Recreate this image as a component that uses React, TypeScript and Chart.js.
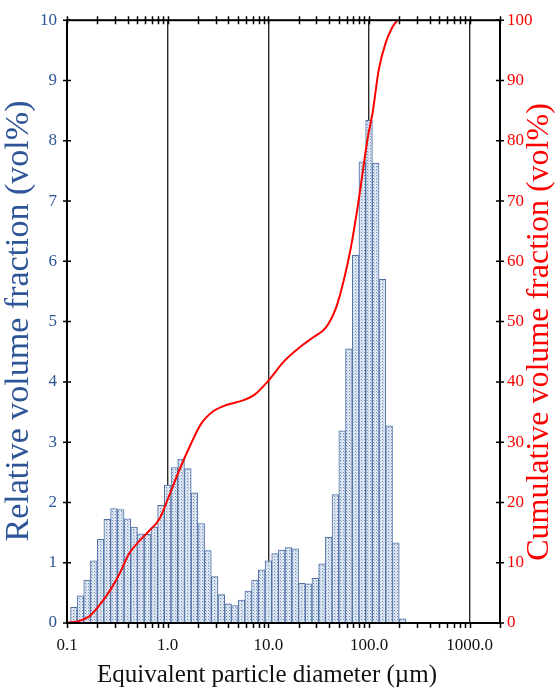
import React, { useEffect, useRef } from 'react';
import { Chart, registerables } from 'chart.js';

Chart.register(...registerables);

// Bin centre diameters (µm) of the histogram bars
const DIAMETERS = [
  0.117, 0.136, 0.158, 0.185, 0.215, 0.251, 0.293, 0.341, 0.398, 0.464,
  0.541, 0.631, 0.736, 0.858, 1.0, 1.166, 1.359, 1.585, 1.848, 2.154,
  2.512, 2.929, 3.415, 3.981, 4.642, 5.412, 6.31, 7.356, 8.577, 10.0,
  11.66, 13.59, 15.85, 18.48, 21.54, 25.12, 29.29, 34.15, 39.81, 46.42,
  54.12, 63.1, 73.56, 85.77, 100.0, 116.6, 135.9, 158.5, 184.8, 215.4,
];

// Relative volume fraction (vol%) per bin
const REL_VOLUME = [
  0.26, 0.45, 0.71, 1.03, 1.39, 1.72, 1.9, 1.88, 1.73, 1.59,
  1.48, 1.47, 1.59, 1.95, 2.29, 2.58, 2.72, 2.56, 2.16, 1.65,
  1.2, 0.77, 0.47, 0.32, 0.29, 0.38, 0.53, 0.71, 0.88, 1.03,
  1.15, 1.21, 1.25, 1.23, 0.66, 0.65, 0.74, 0.98, 1.42, 2.13,
  3.19, 4.55, 6.1, 7.65, 8.34, 7.63, 5.7, 3.27, 1.33, 0.07,
];

// Cumulative curve
const CUM_DIAMETERS = [
  0.1, 0.135, 0.166, 0.2, 0.27, 0.34, 0.41, 0.53, 0.655, 0.83,
  1.0, 1.3, 1.7, 2.14, 2.88, 3.9, 5.3, 7.2, 9.9, 14.3,
  21.1, 28, 37.2, 46.8, 56.4, 65.7, 76.6, 86.1, 96.7, 108.6,
  125, 146, 170, 192,
];
const CUM_VOLUME = [
  0, 0.4, 1.1, 2.5, 5.5, 8.5, 11.4, 13.7, 15.3, 17.3,
  20.5, 25.3, 29.7, 33.0, 35.2, 36.2, 36.8, 37.8, 40.1, 43.4,
  45.9, 47.4, 49.0, 52.2, 57.0, 62.1, 68.7, 74.5, 80.3, 84.7,
  91.8, 96.2, 98.8, 100,
];

const X_TICKS = [
  0.1, 0.2, 0.3, 0.4, 0.5, 0.6, 0.7, 0.8, 0.9,
  1, 2, 3, 4, 5, 6, 7, 8, 9,
  10, 20, 30, 40, 50, 60, 70, 80, 90,
  100, 200, 300, 400, 500, 600, 700, 800, 900,
  1000, 2000,
];
const X_MAJOR = [0.1, 1, 10, 100, 1000];
const X_MAJOR_LABELS = ['0.1', '1.0', '10.0', '100.0', '1000.0'];
const X_GRID = [1, 10, 100, 1000];

const LEFT_TITLE = 'Relative volume fraction (vol%)';
const RIGHT_TITLE = 'Cumulative volume fraction (vol%)';
const BOTTOM_TITLE = 'Equivalent particle diameter (\u00b5m)';

const BLUE = '#2e5597';
const RED = '#ff0000';
const FONT = 'Liberation Serif';

const isOneOf = (list: number[], v: number) =>
  list.findIndex((m) => Math.abs(m - v) / m < 1e-6);

export default function App() {
  const ref = useRef<HTMLCanvasElement | null>(null);

  useEffect(() => {
    const canvas = ref.current!;
    const pc = document.createElement('canvas');
    pc.width = 3;
    pc.height = 3;
    const p = pc.getContext('2d')!;
    p.fillStyle = '#dfe7f3';
    p.fillRect(0, 0, 3, 3);
    p.fillStyle = '#6f8cbb';
    p.fillRect(1, 1, 1, 1);
    p.fillStyle = '#a9bcd9';
    p.fillRect(2, 2, 1, 1);
    const pattern = canvas.getContext('2d')!.createPattern(pc, 'repeat');

    const setXTicks = (scale: any) => {
      scale.ticks = X_TICKS.map((v) => ({ value: v }));
    };

    const deco = {
      id: 'deco',
      afterDraw(chart: any) {
        const { ctx, chartArea: a, scales } = chart;
        const x = scales.x;
        const y = scales.y;
        const y2 = scales.y2;
        ctx.save();
        ctx.strokeStyle = '#000';
        ctx.lineWidth = 1.5;
        ctx.beginPath();
        X_TICKS.forEach((v) => {
          const px = Math.round(x.getPixelForValue(v)) + 0.5;
          ctx.moveTo(px, a.bottom);
          ctx.lineTo(px, a.bottom + 5);
          ctx.moveTo(px, a.top - 4);
          ctx.lineTo(px, a.top + 4);
        });
        for (let v = 0; v <= 10; v++) {
          const py = y.getPixelForValue(v);
          ctx.moveTo(a.left - 4, py);
          ctx.lineTo(a.left + 4, py);
        }
        for (let v = 0; v <= 100; v += 10) {
          const py = y2.getPixelForValue(v);
          ctx.moveTo(a.right - 4, py);
          ctx.lineTo(a.right + 4, py);
        }
        ctx.stroke();
        ctx.lineWidth = 2;
        ctx.strokeRect(a.left, a.top, a.right - a.left, a.bottom - a.top);

        ctx.textAlign = 'center';
        ctx.textBaseline = 'middle';
        ctx.font = `34px "${FONT}"`;
        ctx.fillStyle = BLUE;
        ctx.save();
        ctx.translate(19, 321);
        ctx.rotate(-Math.PI / 2);
        ctx.fillText(LEFT_TITLE, 0, 0);
        ctx.restore();
        ctx.font = `32px "${FONT}"`;
        ctx.fillStyle = RED;
        ctx.save();
        ctx.translate(540, 332);
        ctx.rotate(-Math.PI / 2);
        ctx.fillText(RIGHT_TITLE, 0, 0);
        ctx.restore();
        ctx.fillStyle = '#111';
        ctx.font = `25px "${FONT}"`;
        ctx.fillText(BOTTOM_TITLE, 267, 675);
        ctx.restore();
      },
    };

    const chart = new Chart(canvas, {
      type: 'bar',
      data: {
        datasets: [
          {
            type: 'line',
            data: CUM_DIAMETERS.map((d, i) => ({ x: d, y: CUM_VOLUME[i] })),
            xAxisID: 'x',
            yAxisID: 'y2',
            borderColor: RED,
            borderWidth: 2,
            pointRadius: 0,
            cubicInterpolationMode: 'monotone',
            fill: false,
            order: 0,
          } as any,
          {
            type: 'bar',
            data: DIAMETERS.map((d, i) => ({ x: d, y: REL_VOLUME[i] })),
            xAxisID: 'x',
            yAxisID: 'y',
            backgroundColor: pattern as any,
            borderColor: '#4d6fa3',
            borderWidth: 1,
            barThickness: 'flex',
            barPercentage: 1,
            categoryPercentage: 1,
            order: 1,
          } as any,
        ],
      },
      options: {
        animation: false,
        responsive: true,
        maintainAspectRatio: false,
        layout: { padding: 0 },
        plugins: {
          legend: { display: false },
          tooltip: { enabled: false },
        },
        scales: {
          x: {
            type: 'logarithmic',
            position: 'bottom',
            min: 0.1,
            max: 2000,
            offset: false,
            afterBuildTicks: setXTicks,
            afterFit: (s: any) => {
              s.height = 67;
            },
            grid: {
              offset: false,
              drawTicks: false,
              color: (c: any) =>
                c.tick && isOneOf(X_GRID, c.tick.value) >= 0 ? '#2a2a2a' : 'rgba(0,0,0,0)',
              lineWidth: 1.4,
            },
            border: { display: false },
            ticks: {
              autoSkip: false,
              maxRotation: 0,
              padding: 12,
              color: '#111',
              font: { family: FONT, size: 17 },
              callback: (v: any) => {
                const i = isOneOf(X_MAJOR, Number(v));
                return i >= 0 ? X_MAJOR_LABELS[i] : '';
              },
            },
          },
          x2: {
            type: 'logarithmic',
            position: 'top',
            min: 0.1,
            max: 2000,
            offset: false,
            afterBuildTicks: setXTicks,
            afterFit: (s: any) => {
              s.height = 17;
            },
            grid: { display: false, drawTicks: false },
            border: { display: false },
            ticks: { display: false },
          },
          y: {
            type: 'linear',
            position: 'left',
            min: 0,
            max: 10,
            afterFit: (s: any) => {
              s.width = 67;
            },
            grid: { display: false, drawTicks: false },
            border: { display: false },
            ticks: {
              stepSize: 1,
              padding: 10,
              color: BLUE,
              font: { family: FONT, size: 17 },
            },
          },
          y2: {
            type: 'linear',
            position: 'right',
            min: 0,
            max: 100,
            afterFit: (s: any) => {
              s.width = 58;
            },
            grid: { display: false, drawTicks: false },
            border: { display: false },
            ticks: {
              stepSize: 10,
              padding: 7,
              color: RED,
              font: { family: FONT, size: 17 },
            },
          },
        },
      } as any,
      plugins: [deco],
    });

    return () => chart.destroy();
  }, []);

  return (
    <div style={{ position: 'absolute', left: 0, top: 0, width: 558, height: 690 }}>
      <canvas ref={ref} />
    </div>
  );
}
